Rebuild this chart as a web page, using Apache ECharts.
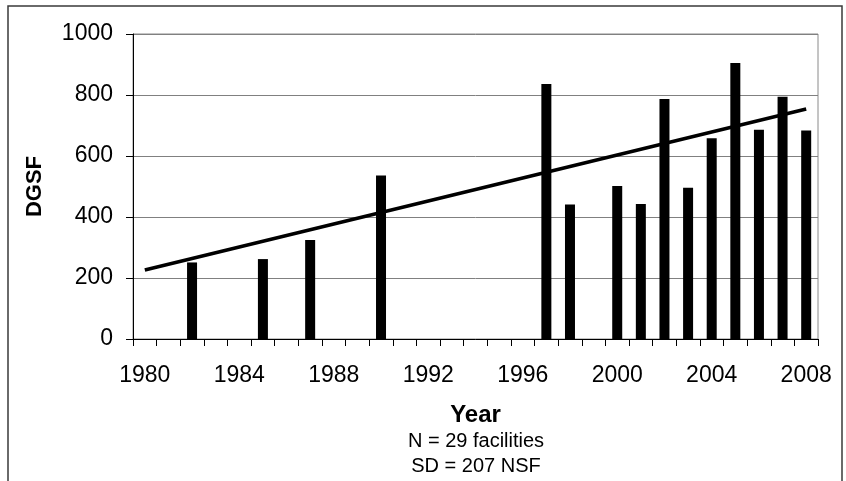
<!DOCTYPE html>
<html>
<head>
<meta charset="utf-8">
<script src="https://cdn.jsdelivr.net/npm/echarts@6/dist/echarts.min.js"></script>
<style>
  html, body { margin: 0; padding: 0; background: #fff; }
  #chart { width: 846px; height: 481px; }
</style>
</head>
<body>
<div id="chart"></div>
<script>
// category axis: every year 1980..2008
const years = ['1980','1981','1982','1983','1984','1985','1986','1987','1988','1989',
  '1990','1991','1992','1993','1994','1995','1996','1997','1998','1999',
  '2000','2001','2002','2003','2004','2005','2006','2007','2008'];

// years that have a bar, and their DGSF
const barYears = ['1982','1985','1987','1990','1997','1998','2000','2001','2002','2003','2004','2005','2006','2007','2008'];
const barValues = [251, 262, 325, 536, 836, 441, 502, 443, 787, 496, 658, 905, 686, 794, 684];

// linear trend end points
const trendYears = ['1980', '2008'];
const trendValues = [226, 754];

const notes = ['N = 29 facilities', 'SD = 207 NSF'];

const FONT = '"Liberation Sans", Arial, sans-serif';

const barData = years.map(y => {
  const i = barYears.indexOf(y);
  return i < 0 ? null : barValues[i];
});
const trendData = trendYears.map((y, i) => [y, trendValues[i]]);

const chart = echarts.init(document.getElementById('chart'));

chart.setOption({
  animation: false,
  backgroundColor: '#fff',
  grid: {
    left: 133, top: 34, right: 28, bottom: 142,
    show: true, borderColor: '#8a8a8a', borderWidth: 1, backgroundColor: 'transparent'
  },
  xAxis: {
    type: 'category',
    data: years,
    boundaryGap: true,
    name: 'Year',
    nameLocation: 'middle',
    nameGap: 76,
    nameTextStyle: { fontFamily: FONT, fontSize: 24, fontWeight: 'bold', color: '#000', verticalAlign: 'middle' },
    axisLine: { lineStyle: { color: '#000', width: 1 } },
    axisTick: { show: true, interval: 0, length: 7, lineStyle: { color: '#000' } },
    axisLabel: { interval: 3, margin: 25, fontFamily: FONT, fontSize: 23, color: '#000' },
    splitLine: { show: false }
  },
  yAxis: {
    type: 'value',
    min: 0, max: 1000, interval: 200,
    name: 'DGSF',
    nameLocation: 'middle',
    nameRotate: 90,
    nameGap: 98,
    nameTextStyle: { fontFamily: FONT, fontSize: 22, fontWeight: 'bold', color: '#000', verticalAlign: 'middle' },
    axisLine: { show: true, lineStyle: { color: '#000', width: 1 } },
    axisTick: { show: true, length: 7, lineStyle: { color: '#000' } },
    axisLabel: { margin: 20, fontFamily: FONT, fontSize: 23, color: '#000', formatter: v => String(v) },
    splitLine: { lineStyle: { color: '#808080', width: 1 } }
  },
  series: [
    {
      type: 'bar',
      data: barData,
      barWidth: 10,
      itemStyle: { color: '#000' }
    },
    {
      type: 'line',
      data: trendData,
      symbol: 'none',
      lineStyle: { color: '#000', width: 3.5 },
      z: 5
    }
  ],
  graphic: [
    {
      type: 'rect',
      shape: { x: 8, y: 6, width: 834, height: 490 },
      style: { fill: 'none', stroke: '#3a3a3a', lineWidth: 1.5 },
      silent: true
    },
    {
      type: 'text', x: 476, y: 441,
      style: { text: notes[0], font: '20px ' + FONT, fill: '#000', textAlign: 'center', textVerticalAlign: 'middle' }
    },
    {
      type: 'text', x: 476, y: 466,
      style: { text: notes[1], font: '20px ' + FONT, fill: '#000', textAlign: 'center', textVerticalAlign: 'middle' }
    }
  ]
});
</script>
</body>
</html>
